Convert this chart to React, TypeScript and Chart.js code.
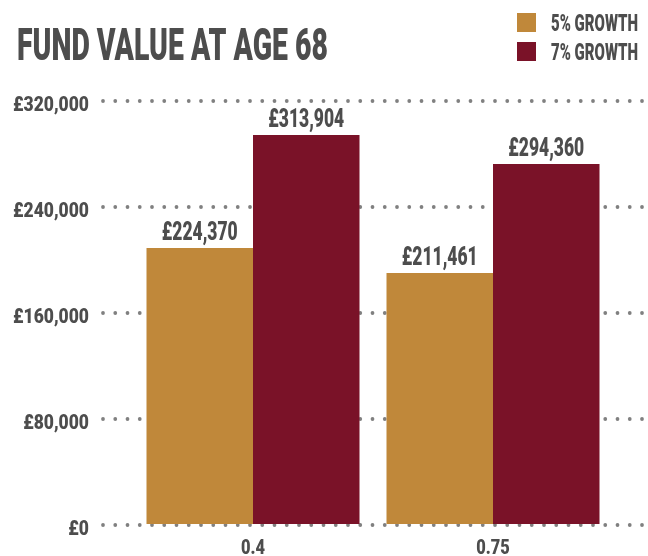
import React, { useEffect, useRef } from 'react';
import { Chart, registerables } from 'chart.js';

Chart.register(...registerables);

const chartTitle = 'FUND VALUE AT AGE 68';
const categories = ['0.4', '0.75'];
const seriesNames = ['5% GROWTH', '7% GROWTH'];
// bar heights as read against the drawn axis
const growth5Values = [208300, 189400];
const growth7Values = [293600, 271700];
// printed value labels above the bars
const growth5Labels = ['£224,370', '£211,461'];
const growth7Labels = ['£313,904', '£294,360'];
const yTickValues = [0, 80000, 160000, 240000, 320000];
const yTickLabels = ['£0', '£80,000', '£160,000', '£240,000', '£320,000'];
const seriesColors = ['#C0883A', '#7A1228'];

const FONT = 'Roboto, "DejaVu Sans", sans-serif';
const WEIGHT = '900';
const TEXT = '#4d4d4d';
const DOT = '#808080';

function fillScaled(
  ctx: CanvasRenderingContext2D,
  text: string,
  x: number,
  y: number,
  sx: number,
  align: 'left' | 'center' | 'right'
) {
  const w = ctx.measureText(text).width * sx;
  const left = align === 'center' ? x - w / 2 : align === 'right' ? x - w : x;
  ctx.save();
  ctx.translate(left, y);
  ctx.scale(sx, 1);
  ctx.textAlign = 'left';
  ctx.fillText(text, 0, 0);
  ctx.restore();
}

function factorFor(ctx: CanvasRenderingContext2D, sample: string, width: number) {
  return width / ctx.measureText(sample).width;
}

const decorPlugin = {
  id: 'decor',
  beforeDatasetsDraw(chart: any) {
    const ctx: CanvasRenderingContext2D = chart.ctx;
    const y = chart.scales.y;
    const x = chart.scales.x;
    const area = chart.chartArea;
    ctx.save();
    // dotted grid lines
    ctx.fillStyle = DOT;
    y.ticks.forEach((t: any) => {
      const py = y.getPixelForValue(t.value) + 1;
      for (let px = area.left - 30; px <= chart.width - 2; px += 12.25) {
        ctx.beginPath();
        ctx.arc(px, py, 1.9, 0, Math.PI * 2);
        ctx.fill();
      }
    });
    // y tick labels
    ctx.fillStyle = TEXT;
    ctx.textBaseline = 'alphabetic';
    ctx.font = `${WEIGHT} 21px ${FONT}`;
    const sy = factorFor(ctx, '£320,000', 76);
    y.ticks.forEach((t: any, i: number) => {
      const py = y.getPixelForValue(t.value);
      fillScaled(ctx, yTickLabels[i], area.left - 44, py + 11, sy, 'right');
    });
    // x tick labels
    const sxl = factorFor(ctx, '0.4', 24);
    categories.forEach((c, i) => {
      fillScaled(ctx, c, x.getPixelForValue(i), area.bottom + 30, sxl, 'center');
    });
    ctx.restore();
  },
  afterDatasetsDraw(chart: any) {
    const ctx: CanvasRenderingContext2D = chart.ctx;
    const labelSets = [growth5Labels, growth7Labels];
    ctx.save();
    ctx.fillStyle = TEXT;
    ctx.font = `${WEIGHT} 25px ${FONT}`;
    ctx.textBaseline = 'alphabetic';
    const s = factorFor(ctx, '£313,904', 76);
    chart.data.datasets.forEach((_: any, di: number) => {
      const meta = chart.getDatasetMeta(di);
      meta.data.forEach((bar: any, i: number) => {
        fillScaled(ctx, labelSets[di][i], bar.x, bar.y - 8, s, 'center');
      });
    });
    ctx.restore();
  },
  afterDraw(chart: any) {
    const ctx: CanvasRenderingContext2D = chart.ctx;
    ctx.save();
    ctx.fillStyle = TEXT;
    ctx.textBaseline = 'alphabetic';
    ctx.font = `${WEIGHT} 45px ${FONT}`;
    fillScaled(ctx, chartTitle, 17, 60, factorFor(ctx, chartTitle, 311), 'left');
    ctx.font = `${WEIGHT} 23px ${FONT}`;
    const sl = factorFor(ctx, seriesNames[0], 87);
    seriesNames.forEach((name, i) => {
      const top = 13 + i * 29;
      ctx.fillStyle = seriesColors[i];
      ctx.fillRect(517, top, 19, 19);
      ctx.fillStyle = TEXT;
      fillScaled(ctx, name, 551, top + 18, sl, 'left');
    });
    ctx.restore();
  },
};

export default function App() {
  const canvasRef = useRef<HTMLCanvasElement | null>(null);

  useEffect(() => {
    document.body.style.margin = '0';
    const canvas = canvasRef.current;
    if (!canvas) return;
    const chart = new Chart(canvas, {
      type: 'bar',
      data: {
        labels: categories,
        datasets: [
          {
            label: seriesNames[0],
            data: growth5Values,
            backgroundColor: seriesColors[0],
            borderWidth: 0,
            barPercentage: 1,
            categoryPercentage: 0.8875,
          },
          {
            label: seriesNames[1],
            data: growth7Values,
            backgroundColor: seriesColors[1],
            borderWidth: 0,
            barPercentage: 1,
            categoryPercentage: 0.8875,
          },
        ],
      },
      options: {
        animation: false,
        responsive: false,
        layout: { padding: { top: 100, right: 35, left: 0, bottom: 0 } },
        plugins: {
          legend: { display: false },
          title: { display: false },
          tooltip: { enabled: false },
        },
        scales: {
          x: {
            grid: { display: false, drawTicks: false },
            border: { display: false },
            ticks: { display: false },
            afterFit: (s: any) => {
              s.height = 32;
            },
          },
          y: {
            min: 0,
            max: 320000,
            grid: { display: false, drawTicks: false },
            border: { display: false },
            afterBuildTicks: (s: any) => {
              s.ticks = yTickValues.map((v) => ({ value: v }));
            },
            ticks: { display: false },
            afterFit: (s: any) => {
              s.width = 133;
            },
          },
        },
      },
      plugins: [decorPlugin],
    });
    return () => chart.destroy();
  }, []);

  return (
    <div style={{ width: 648, height: 556, background: '#ffffff' }}>
      <canvas ref={canvasRef} width={648} height={556} style={{ display: 'block' }} />
    </div>
  );
}
